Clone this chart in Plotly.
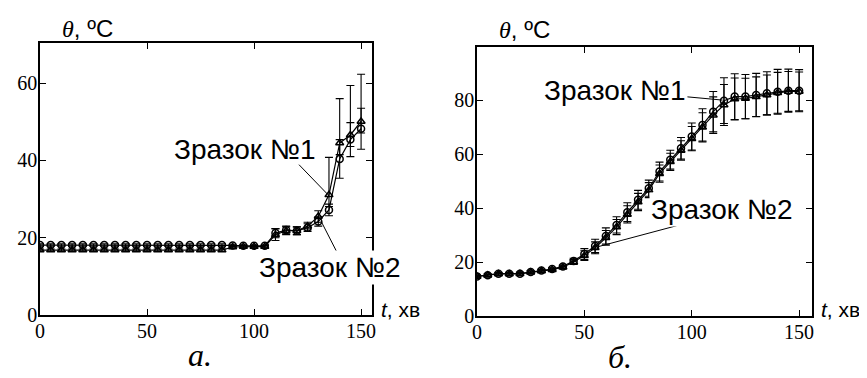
import plotly.graph_objects as go

W, H = 867, 378

# ---------------- data: left chart (a.) ----------------
t_a = list(range(0, 155, 5))
a_s1 = [16.8] * 18 + [17.6, 17.7, 17.7, 17.7, 20.8, 21.8, 21.8, 23.0, 25.5, 31.1, 44.5, 46.6, 50.1]
a_s1_err_plus = [0.3] * 18 + [0.3, 0.3, 0.3, 0.3, 1.5, 1.0, 1.0, 1.0, 1.5, 9.7, 11.5, 12.8, 12.2]
a_s1_err_minus = [0.3] * 18 + [0.3, 0.3, 0.3, 0.3, 1.5, 1.0, 1.0, 1.0, 1.5, 3.0, 3.0, 3.0, 3.0]
a_s2 = [18.1] * 18 + [18.0, 17.9, 17.9, 17.9, 21.2, 22.0, 21.8, 22.6, 24.2, 27.2, 40.4, 45.4, 48.2]
a_s2_err = [0.3] * 18 + [0.3, 0.3, 0.3, 0.3, 1.2, 1.0, 1.0, 1.0, 1.2, 1.5, 5.0, 4.4, 5.3]

# ---------------- data: right chart (б.) ----------------
t_b = list(range(0, 155, 5))
b_s1 = [14.7, 15.1, 15.7, 15.7, 15.7, 16.3, 16.9, 17.4, 18.4, 20.4, 23.0, 26.0, 29.7, 33.8,
        38.5, 43.1, 47.4, 53.6, 58.0, 62.2, 66.6, 70.9, 75.8, 79.9, 81.4, 81.4, 82.0, 82.6,
        83.2, 83.6, 83.6]
b_s2 = [14.7, 15.1, 15.6, 15.6, 15.7, 16.2, 16.7, 17.2, 18.1, 20.0, 22.4, 25.3, 29.0, 33.0,
        37.7, 42.3, 46.7, 52.8, 57.2, 61.4, 65.8, 70.0, 74.5, 78.3, 80.5, 80.7, 81.3, 82.0,
        82.8, 83.3, 83.3]
b_s1_err = [0.5] * 9 + [1.0, 2.0, 2.5, 3.0, 3.0, 3.5, 3.5, 3.0, 3.5, 3.5, 4.0, 5.0, 6.0,
                        7.5, 8.5, 8.5, 8.2, 8.0, 8.0, 8.3, 8.0, 7.8]
b_s2_err = [0.5] * 9 + [0.9, 1.8, 2.2, 2.7, 2.8, 3.2, 3.2, 2.8, 3.2, 3.2, 3.6, 4.5, 5.4,
                        6.8, 7.6, 7.8, 7.5, 7.4, 7.4, 7.6, 7.4, 7.2]

x_ticks = [0, 50, 100, 150]
a_y_ticks = [0, 20, 40, 60]
b_y_ticks = [0, 20, 40, 60, 80]

label1 = "Зразок №1"
label2 = "Зразок №2"
ylab = "<span style='font-family:Liberation Serif'><i>θ</i></span>, ºC"
xlab = "<i>t</i>, хв"


def px(x):
    return x / W


def py(y):
    return 1 - y / H


def err(arr, minus=None):
    d = dict(type="data", array=arr, color="black", thickness=1.1, width=4, visible=True)
    if minus is not None:
        d["arrayminus"] = minus
        d["symmetric"] = False
    return d


line = dict(color="black", width=1.2)
tri = dict(symbol="triangle-up-open", size=7, color="black", line=dict(color="black", width=1.5))
circ = dict(symbol="circle-open", size=7, color="black", line=dict(color="black", width=1.5))

fig = go.Figure()
fig.add_trace(go.Scatter(x=t_a, y=a_s2, mode="lines+markers", line=line, marker=circ,
                         error_y=err(a_s2_err), xaxis="x", yaxis="y", showlegend=False))
fig.add_trace(go.Scatter(x=t_a, y=a_s1, mode="lines+markers", line=line, marker=tri,
                         error_y=err(a_s1_err_plus, a_s1_err_minus), xaxis="x", yaxis="y",
                         showlegend=False))
fig.add_trace(go.Scatter(x=t_b, y=b_s2, mode="lines+markers", line=line, marker=tri,
                         error_y=err(b_s2_err), xaxis="x2", yaxis="y2", showlegend=False))
fig.add_trace(go.Scatter(x=t_b, y=b_s1, mode="lines+markers", line=line, marker=circ,
                         error_y=err(b_s1_err), xaxis="x2", yaxis="y2", showlegend=False))

tickfont = dict(family="Liberation Serif", size=20, color="black")
axcommon = dict(showline=True, linecolor="black", linewidth=1.5, mirror="ticks",
                ticks="inside", ticklen=6, tickwidth=1.3, tickcolor="black",
                showgrid=False, zeroline=False, tickfont=tickfont, automargin=False)

fig.update_layout(
    width=W, height=H,
    margin=dict(l=0, r=0, t=0, b=0),
    font=dict(family="Liberation Serif", size=20, color="black"),
    paper_bgcolor="white", plot_bgcolor="white",
    xaxis=dict(domain=[px(32), px(364)], range=[0, 155.1], tickvals=x_ticks,
               anchor="y", ticklabelstandoff=-3, **axcommon),
    yaxis=dict(domain=[py(307), py(35)], range=[0, 70.4], tickvals=a_y_ticks,
               anchor="x", ticklabelstandoff=-3, **axcommon),
    xaxis2=dict(domain=[px(469), px(804)], range=[0, 156], tickvals=x_ticks,
                anchor="y2", ticklabelstandoff=-3, **axcommon),
    yaxis2=dict(domain=[py(308), py(39)], range=[0, 99.8], tickvals=b_y_ticks,
                anchor="x2", ticklabelstandoff=-3, **axcommon),
)

# leader lines
fig.add_shape(type="line", xref="x", yref="y", x0=121, y0=38.9, x1=134.6, y1=31.1,
              line=dict(color="black", width=1))
fig.add_shape(type="line", xref="x", yref="y", x0=139.6, y0=15.3, x1=131.3, y1=24.3,
              line=dict(color="black", width=1))
fig.add_shape(type="line", xref="x2", yref="y2", x0=98, y0=81.3, x1=114.4, y1=80.1,
              line=dict(color="black", width=1))
fig.add_shape(type="line", xref="x2", yref="y2", x0=93, y0=33.5, x1=56.3, y1=25.7,
              line=dict(color="black", width=1))

sans = "Liberation Sans"
ann = []


def text(x, y, s, size, family=sans, bg=None, xa="center"):
    d = dict(x=px(x), y=py(y), xref="paper", yref="paper", text=s, showarrow=False,
             xanchor=xa, yanchor="middle", font=dict(family=family, size=size, color="black"))
    if bg:
        d["bgcolor"] = bg
    ann.append(d)


text(236, 141, label1, 28)
text(321, 259, label2, 28, bg="white")
text(606, 83, label1, 28)
text(713, 201, label2, 28, bg="white")
text(52, 20, ylab, 24, xa="left")
text(489, 22, ylab, 24, xa="left")
text(371, 301, xlab, 21, xa="left")
text(811, 301, xlab, 21, xa="left")
text(192, 347, "<i>а.</i>", 32, family="Liberation Serif")
text(612, 349, "<i>б.</i>", 32, family="Liberation Serif")
fig.update_layout(annotations=ann)

fig.write_html("out.html")
